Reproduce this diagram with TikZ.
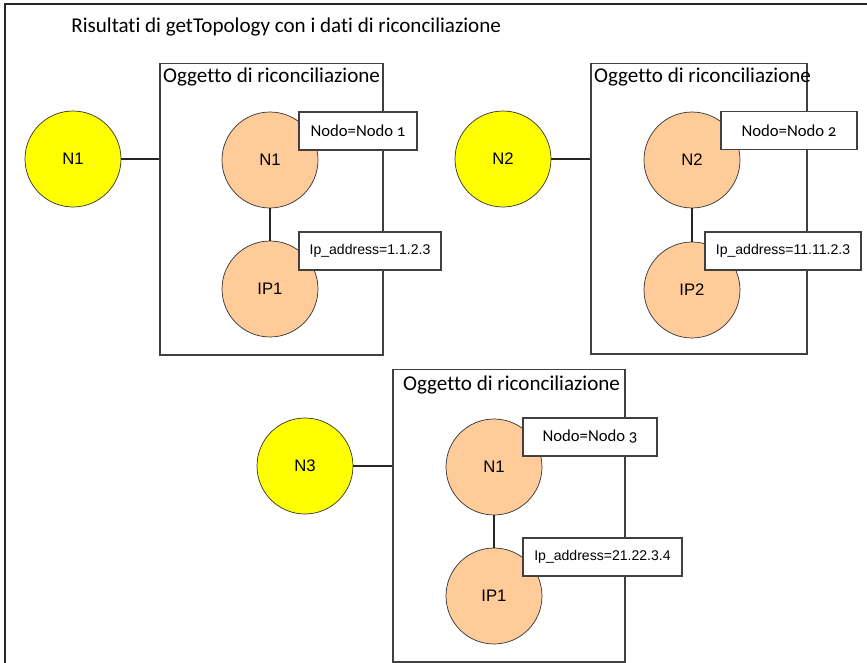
\documentclass[tikz,border=0pt]{standalone}
\usepackage{fontspec}
\setmainfont{Carlito}[Ligatures=NoCommon]
\newfontfamily\oldnums{Carlito}[Numbers=OldStyle]
\newfontfamily\arial{Liberation Sans}
\usepackage{tikz}
\definecolor{peach}{HTML}{FFCC99}
\definecolor{ylw}{HTML}{FFFF00}
\tikzset{link/.style={line width=0.6pt, black!85}}
\tikzset{group/.style={draw=black!75, line width=0.6pt, inner sep=0pt}}
\tikzset{gtitle/.style={anchor=west, inner sep=1pt, font=\fontsize{12}{14}\selectfont}}
\tikzset{ext/.style={circle, draw=black!80, fill=ylw, minimum size=1.92cm, inner sep=0pt, font=\arial\fontsize{9.5}{11}\selectfont}}
\tikzset{rec/.style={circle, draw=black!80, fill=peach, minimum size=1.92cm, inner sep=0pt, font=\arial\fontsize{9.5}{11}\selectfont}}
\tikzset{attr/.style={draw=black!75, fill=white, line width=0.6pt, minimum height=0.76cm, inner sep=0pt}}
\tikzset{nodo/.style={attr, font=\oldnums\fontsize{9.5}{11}\selectfont}}
\tikzset{addr/.style={attr, font=\arial\fontsize{8}{9}\selectfont}}

\begin{document}
\begin{tikzpicture}[x=0.02cm, y=-0.02cm]
  \useasboundingbox (0,0) rectangle (867,663);
  % Frame, open on the right and at the bottom
  \draw[link] (5,663) -- (5,4) -- (867,4);
  \node[anchor=west, inner sep=0pt, font=\fontsize{12}{14}\selectfont] (title) at (71,27)
    {Risultati di getTopology con i dati di riconciliazione};

  % Reconciliation objects
  \node[group, minimum width=4.46cm, minimum height=5.84cm] (box1) at (271.5,209) {};
  \node[group, minimum width=4.32cm, minimum height=5.82cm] (box2) at (699,208.5) {};
  \node[group, minimum width=4.64cm, minimum height=5.86cm] (box3) at (509,515.5) {};
  \node[gtitle] (t1) at (161,77) {Oggetto di riconciliazione};
  \node[gtitle] (t2) at (592,77) {Oggetto di riconciliazione};
  \node[gtitle] (t3) at (401,385) {Oggetto di riconciliazione};

  % Topology nodes and the reconciled ones
  \foreach \name/\pos/\txt in {ext1/{(73,159)}/N1, ext2/{(503,159)}/N2, ext3/{(305,466)}/N3} {
    \node[ext] (\name) at \pos {\txt};
  }
  \node[rec] (n1) at (270,160) {N1};
  \node[rec] (ip1) at (270,289) {IP1};
  \node[rec] (n2) at (692,160) {N2};
  \node[rec] (ip2) at (692,290) {IP2};
  \node[rec] (n3) at (494,467) {N1};
  \node[rec] (ip3) at (494,596) {IP1};

  % Links
  \foreach \i in {1,2,3} {
    \draw[link] (ext\i) -- (ext\i -| box\i.west);
    \draw[link] (n\i) -- (ip\i);
  }

  % Attributes
  \node[nodo, minimum width=2.36cm] (a1) at (358,131) {Nodo=Nodo 1};
  \node[addr, minimum width=2.84cm] (b1) at (370,251) {Ip\_address=1.1.2.3};
  \node[nodo, minimum width=2.72cm] (a2) at (789,130.5) {Nodo=Nodo 2};
  \node[addr, minimum width=3.12cm] (b2) at (783,251) {Ip\_address=11.11.2.3};
  \node[nodo, minimum width=2.68cm] (a3) at (590,437) {Nodo=Nodo 3};
  \node[addr, minimum width=3.18cm] (b3) at (602.5,557) {Ip\_address=21.22.3.4};
\end{tikzpicture}
\end{document}
